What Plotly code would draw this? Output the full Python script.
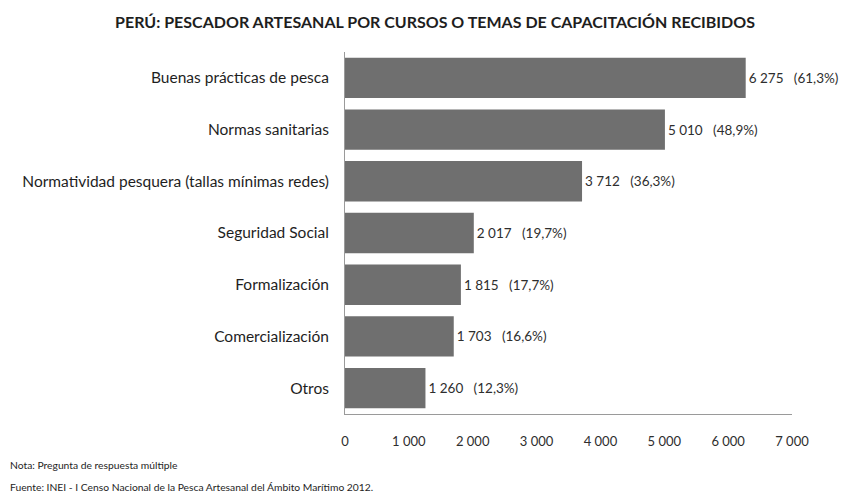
import plotly.graph_objects as go

categories = [
    "Buenas prácticas de pesca",
    "Normas sanitarias",
    "Normatividad pesquera (tallas mínimas redes)",
    "Seguridad Social",
    "Formalización",
    "Comercialización",
    "Otros",
]
values = [6275, 5010, 3712, 2017, 1815, 1703, 1260]
percents = ["61,3%", "48,9%", "36,3%", "19,7%", "17,7%", "16,6%", "12,3%"]
tick_vals = [0, 1000, 2000, 3000, 4000, 5000, 6000, 7000]
tick_text = ["0", "1 000", "2 000", "3 000", "4 000", "5 000", "6 000", "7 000"]


def fmt(v):
    return f"{v:,}".replace(",", " ")


labels = [f"{fmt(v)}   ({p})" for v, p in zip(values, percents)]

FONT = "Lato, Open Sans, sans-serif"
W, H = 852, 504
L, R, T, B = 345, 60, 52, 90
PW = W - L - R
PH = H - T - B

fig = go.Figure(
    go.Bar(
        x=values,
        y=categories,
        orientation="h",
        marker=dict(color="#6f6f6f", line=dict(width=0)),
        text=labels,
        textposition="outside",
        cliponaxis=False,
        textfont=dict(family=FONT, size=13.5, color="#2e2e2e"),
        width=0.78,
    )
)

fig.update_layout(
    width=W,
    height=H,
    paper_bgcolor="white",
    plot_bgcolor="white",
    margin=dict(l=L, r=R, t=T, b=B),
    showlegend=False,
    title=dict(
        text="<b>PERÚ: PESCADOR ARTESANAL POR CURSOS O TEMAS DE CAPACITACIÓN RECIBIDOS</b>",
        x=435 / W,
        xanchor="center",
        y=1 - 22 / H,
        yanchor="middle",
        font=dict(family=FONT, size=16, color="#1e1e1e"),
    ),
    xaxis=dict(
        range=[0, 7000],
        tickvals=tick_vals,
        ticktext=tick_text,
        showgrid=False,
        zeroline=False,
        showline=True,
        linecolor="#9a9a9a",
        linewidth=1,
        ticks="",
        ticklabelstandoff=15,
        tickfont=dict(family=FONT, size=13, color="#2e2e2e"),
        automargin=False,
    ),
    yaxis=dict(
        categoryorder="array",
        categoryarray=categories[::-1],
        showgrid=False,
        showline=True,
        linecolor="#9a9a9a",
        linewidth=1,
        ticks="",
        ticklabelstandoff=12,
        tickfont=dict(family=FONT, size=15.5, color="#1e1e1e"),
        automargin=False,
    ),
    annotations=[
        dict(
            text="Nota: Pregunta de respuesta múltiple",
            xref="paper", yref="paper",
            x=(8 - L) / PW, y=(H - B - 465) / PH,
            xanchor="left", yanchor="middle",
            showarrow=False,
            font=dict(family=FONT, size=10.3, color="#1e1e1e"),
        ),
        dict(
            text="Fuente: INEI - I Censo Nacional de la Pesca Artesanal del Ámbito Marítimo 2012.",
            xref="paper", yref="paper",
            x=(8 - L) / PW, y=(H - B - 487) / PH,
            xanchor="left", yanchor="middle",
            showarrow=False,
            font=dict(family=FONT, size=10.3, color="#1e1e1e"),
        ),
    ],
)

fig.write_html(
    "out.html",
    config={"displayModeBar": False},
    post_script="document.body.style.margin='0';document.body.style.padding='0';",
)
